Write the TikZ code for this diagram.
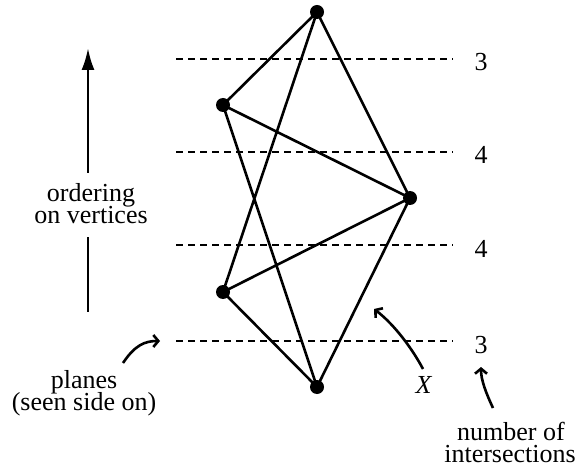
\documentclass[tikz,border=0pt]{standalone}
\usepackage{fontspec}
\setmainfont{Liberation Serif}
\usetikzlibrary{arrows.meta}
\begin{document}
\begin{tikzpicture}[x=1pt,y=-1pt,
  vtx/.style={circle,fill=black,inner sep=0pt,minimum size=14pt},
  edge/.style={line width=2.6pt},
  plane/.style={line width=2.4pt,dash pattern=on 7pt off 5pt},
  lbl/.style={font=\fontsize{26}{22}\selectfont,inner sep=0pt,anchor=base,
    text height=0.68em,text depth=0.14em},
  curvy/.style={line width=2.6pt,-{Straight Barb[length=5pt,width=12pt]}},
  bigarrow/.style={line width=2.6pt}
]
\useasboundingbox (0,0) rectangle (580,470);
% vertices
\node[vtx] (t) at (317,12) {};
\node[vtx] (ul) at (223,105) {};
\node[vtx] (r) at (410,198) {};
\node[vtx] (ll) at (223,292) {};
\node[vtx] (b) at (317,387) {};
\draw[edge] (t.center)--(ul.center) (t.center)--(r.center) (t.center)--(ll.center)
  (ul.center)--(r.center) (ul.center)--(b.center) (ll.center)--(r.center)
  (ll.center)--(b.center) (r.center)--(b.center);
% planes
\foreach \y/\n [count=\i] in {59/3,152/4,245/4,341/3}{
  \coordinate (pl\i) at (176,\y);
  \coordinate (pr\i) at (453,\y);
  \draw[plane] (pl\i)--(pr\i);
  \node[lbl] (c\i) at (481,{\y+12}) {\n};
}
% ordering arrow
\node[lbl] (ord1) at (91,201) {ordering};
\node[lbl] (ord2) at (91,223) {on vertices};
\coordinate (atip) at (88,48);
\coordinate (a1) at (88,173);
\coordinate (a2) at (88,237);
\coordinate (a3) at (88,312);
\draw[bigarrow,-{Latex[length=22pt,width=13pt]}] (a1)--(atip);
\draw[bigarrow] (a2)--(a3);
% planes label
\node[lbl] (pls1) at (84,388) {planes};
\node[lbl] (pls2) at (84,410) {(seen side on)};
\coordinate (ps) at (123,363);
\coordinate (pe) at (160,341);
\draw[curvy] (ps) .. controls (135,345) and (145,341) .. (pe);
% X label
\node[lbl] (X) at (424,393) {\textit{X}};
\coordinate (xs) at (423,369);
\coordinate (xe) at (374,309);
\draw[curvy] (xs) .. controls (413,350) and (395,325) .. (xe);
% number of intersections
\node[lbl] (ni1) at (511,440) {number of};
\node[lbl] (ni2) at (510,462) {intersections};
\coordinate (ns) at (493,408);
\coordinate (ne) at (481,367);
\draw[curvy] (ns) .. controls (486,393) and (481,380) .. (ne);
\end{tikzpicture}
\end{document}
